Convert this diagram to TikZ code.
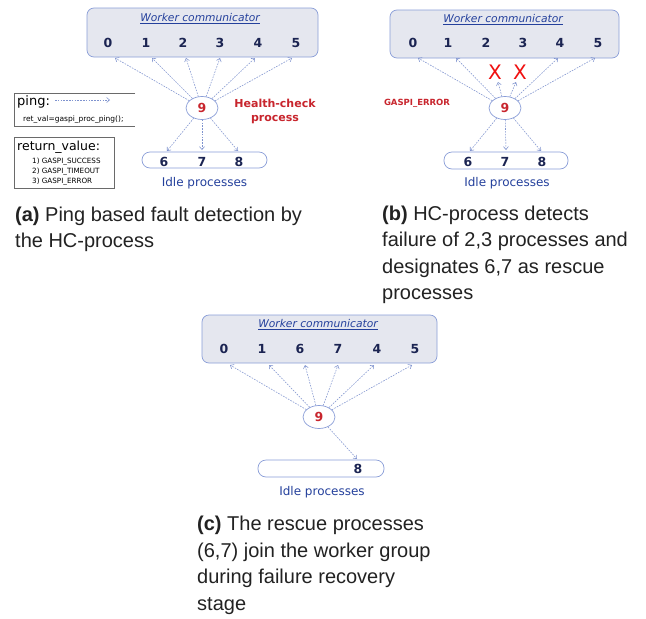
\documentclass[tikz,border=0pt]{standalone}
\usepackage{fontspec}
\setmainfont{DejaVu Sans}
\newfontfamily\capfont{Liberation Sans}
\usetikzlibrary{arrows.meta,shapes.geometric}
\definecolor{boxfill}{HTML}{E5E7EF}
\definecolor{boxline}{HTML}{8A9ED8}
\definecolor{navy}{HTML}{1B2452}
\definecolor{lblue}{HTML}{24409C}
\definecolor{hcred}{HTML}{C8252D}
\definecolor{xred}{HTML}{F01010}
\definecolor{arrowc}{HTML}{7F93CF}
\definecolor{capc}{HTML}{222222}
\definecolor{legline}{HTML}{6A6A6A}
\tikzset{
  worker/.style={draw=boxline, fill=boxfill, rounded corners=7pt, line width=0.7pt, inner sep=0pt},
  idlebox/.style={draw=boxline, fill=white, rounded corners=8pt, line width=0.7pt, inner sep=0pt},
  proc/.style={font=\fontsize{12.5}{14}\selectfont\bfseries, text=navy, inner sep=0pt},
  hc/.style={ellipse, draw=boxline, fill=white, line width=0.7pt, minimum width=32pt, minimum height=23pt, inner sep=0pt, font=\fontsize{12.5}{14}\selectfont\bfseries, text=hcred},
  pingarrow/.style={draw=arrowc, line width=0.55pt, dash pattern=on 1.6pt off 1.2pt, -{Straight Barb[length=3pt,width=5pt]}},
  wtitle/.style={font=\fontsize{10.7}{12}\selectfont\itshape, text=lblue, inner sep=0pt},
  idlelabel/.style={font=\fontsize{12}{14}\selectfont, text=lblue, inner sep=0pt},
  captext/.style={anchor=base west, inner sep=0pt, font=\capfont\fontsize{20}{26}\selectfont, text=capc},
  legtext/.style={anchor=base west, inner sep=0pt, text=black},
  xmark/.style={font=\fontsize{20}{22}\selectfont, text=xred, inner sep=0pt},
}
\begin{document}
\begin{tikzpicture}[x=1pt,y=-1pt]
\useasboundingbox (0,0) rectangle (646,619);
\fill[white] (0,0) rectangle (646,619);

% ================= (a) =================
\node[worker, minimum width=231pt, minimum height=49pt] (wa) at (202.5,32.5) {};
\node[wtitle] (wat) at (200,18.5) {\underline{Worker communicator}};
\node[proc] (a0) at (108,43) {0};
\node[proc] (a1) at (146,43) {1};
\node[proc] (a2) at (183,43) {2};
\node[proc] (a3) at (220,43) {3};
\node[proc] (a4) at (258,43) {4};
\node[proc] (a5) at (296,43) {5};
\node[idlebox, minimum width=125pt, minimum height=16pt] (ia) at (204.5,160) {};
\node[proc] (a6) at (164,161.5) {6};
\node[proc] (a7) at (202,161.5) {7};
\node[proc] (a8) at (239,161.5) {8};
\node[idlelabel] (ial) at (204.5,183) {Idle processes};
\node[hc] (a9) at (202,108) {9};
\node[font=\fontsize{11}{13.5}\selectfont\bfseries, text=hcred, align=center, inner sep=0pt] (hcl) at (275,111.5) {Health-check\\process};
\coordinate (a0t) at (115,58);
\coordinate (a1t) at (152,58);
\coordinate (a2t) at (186,58);
\coordinate (a3t) at (220,58);
\coordinate (a4t) at (255,58);
\coordinate (a5t) at (292,58);
\coordinate (a6t) at (167,151);
\coordinate (a7t) at (202,150);
\coordinate (a8t) at (238,151);
\foreach \t in {a0t,a1t,a2t,a3t,a4t,a5t,a6t,a7t,a8t} \draw[pingarrow] (a9) -- (\t);

% legend
\draw[legline, line width=0.8pt] (135,93) -- (14,93) -- (14,126) -- (135,126);
\node[legtext, font=\fontsize{13}{15}\selectfont] (lping) at (17,105) {ping:};
\coordinate (lps) at (55,100);
\coordinate (lpe) at (110,100);
\draw[pingarrow] (lps) -- (lpe);
\node[legtext, font=\fontsize{7.5}{9}\selectfont] (lret) at (23,121) {ret\_val=gaspi\_proc\_ping();};
\node[draw=legline, line width=0.8pt, minimum width=100pt, minimum height=51pt, inner sep=0pt] (lbox2) at (64,162.5) {};
\node[legtext, font=\fontsize{12.5}{15}\selectfont] (lrv) at (17,150) {return\_value:};
\node[legtext, font=\fontsize{7.2}{9}\selectfont] (lr1) at (32,163) {1) GASPI\_SUCCESS};
\node[legtext, font=\fontsize{7.2}{9}\selectfont] (lr2) at (32,173) {2) GASPI\_TIMEOUT};
\node[legtext, font=\fontsize{7.2}{9}\selectfont] (lr3) at (32,183) {3) GASPI\_ERROR};

\node[captext] (capa1) at (15,221) {\textbf{(a)} Ping based fault detection by};
\node[captext] (capa2) at (15,247) {the HC-process};

% ================= (b) =================
\node[worker, minimum width=229pt, minimum height=48pt] (wb) at (504.5,34) {};
\node[wtitle] (wbt) at (503,19.5) {\underline{Worker communicator}};
\node[proc] (b0) at (413,43) {0};
\node[proc] (b1) at (448,43) {1};
\node[proc] (b2) at (486,43) {2};
\node[proc] (b3) at (523,43) {3};
\node[proc] (b4) at (560,43) {4};
\node[proc] (b5) at (598,43) {5};
\node[idlebox, minimum width=124pt, minimum height=17pt] (ib) at (506,160.5) {};
\node[proc] (b6) at (468,161.5) {6};
\node[proc] (b7) at (505,161.5) {7};
\node[proc] (b8) at (542,161.5) {8};
\node[idlelabel] (ibl) at (507,183) {Idle processes};
\node[hc] (b9) at (505,108) {9};
\node[font=\fontsize{8.5}{10}\selectfont\bfseries, text=hcred, inner sep=0pt] (gerr) at (417,103) {GASPI\_ERROR};
\node[xmark] (x2) at (495,72) {X};
\node[xmark] (x3) at (520,72) {X};
\coordinate (b0t) at (418,58);
\coordinate (b1t) at (456,58);
\coordinate (b2t) at (498,82);
\coordinate (b3t) at (516,82);
\coordinate (b4t) at (558,58);
\coordinate (b5t) at (595,58);
\coordinate (b6t) at (470,151);
\coordinate (b7t) at (506,150);
\coordinate (b8t) at (541,151);
\foreach \t in {b0t,b1t,b2t,b3t,b4t,b5t,b6t,b7t,b8t} \draw[pingarrow] (b9) -- (\t);

\node[captext] (capb1) at (382,220) {\textbf{(b)} HC-process detects};
\node[captext] (capb2) at (382,246.5) {failure of 2,3 processes and};
\node[captext] (capb3) at (382,273) {designates 6,7 as rescue};
\node[captext] (capb4) at (382,299.5) {processes};

% ================= (c) =================
\node[worker, minimum width=235pt, minimum height=48pt] (wc) at (319.5,339) {};
\node[wtitle] (wct) at (318,325) {\underline{Worker communicator}};
\node[proc] (c0) at (224,349) {0};
\node[proc] (c1) at (262,349) {1};
\node[proc] (c6) at (300,349) {6};
\node[proc] (c7) at (338,349) {7};
\node[proc] (c4) at (377,349) {4};
\node[proc] (c5) at (415,349) {5};
\node[idlebox, minimum width=126pt, minimum height=17pt] (ic) at (321,468.5) {};
\node[proc] (c8) at (358,469) {8};
\node[idlelabel] (icl) at (322,492) {Idle processes};
\node[hc] (c9) at (319,417) {9};
\coordinate (c0t) at (230,365);
\coordinate (c1t) at (269,365);
\coordinate (c6t) at (305,365);
\coordinate (c7t) at (338,365);
\coordinate (c4t) at (374,365);
\coordinate (c5t) at (412,365);
\coordinate (c8t) at (357,459);
\foreach \t in {c0t,c1t,c6t,c7t,c4t,c5t,c8t} \draw[pingarrow] (c9) -- (\t);

\node[captext] (capc1) at (197,530) {\textbf{(c)} The rescue processes};
\node[captext] (capc2) at (197,557) {(6,7) join the worker group};
\node[captext] (capc3) at (197,583) {during failure recovery};
\node[captext] (capc4) at (197,610) {stage};
\end{tikzpicture}
\end{document}
